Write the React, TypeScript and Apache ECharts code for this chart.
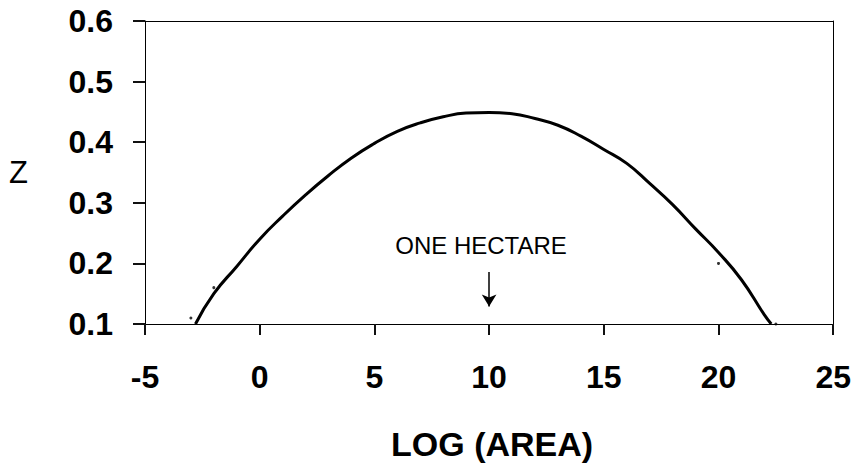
import React, { useEffect, useRef } from "react";
import * as echarts from "echarts";

const curveX = [-2.8, -2, -1, 0, 1, 2, 3, 4, 5, 6, 7, 8, 9, 10, 11, 12, 13, 14, 15, 16, 17, 18, 19, 20, 21, 22, 22.3];
const curveZ = [0.1, 0.15, 0.195, 0.24, 0.278, 0.313, 0.345, 0.374, 0.398, 0.418, 0.432, 0.442, 0.448, 0.449, 0.447, 0.439, 0.428, 0.41, 0.388, 0.365, 0.332, 0.297, 0.257, 0.218, 0.173, 0.115, 0.1];
const dotX = [-3, -2, 20, 22.5];
const dotZ = [0.11, 0.16, 0.2, 0.1];
const hectareX = 10;
const arrowZ = [0.186, 0.129];
const xTicks = { min: -5, max: 25, interval: 5 };
const yTicks = { min: 0.1, max: 0.6, interval: 0.1 };

export default function App() {
  const ref = useRef<HTMLDivElement>(null);
  useEffect(() => {
    if (!ref.current) return;
    const chart = echarts.init(ref.current, undefined, { renderer: "svg" });
    const font = "Arial, 'Liberation Sans', sans-serif";
    chart.setOption({
      animation: false,
      grid: { left: 145, right: 20, top: 21, bottom: 140 },
      xAxis: [
        {
          type: "value",
          min: xTicks.min,
          max: xTicks.max,
          interval: xTicks.interval,
          name: "LOG (AREA)",
          nameLocation: "middle",
          nameGap: 103,
          nameTextStyle: { fontFamily: font, fontWeight: "bold", fontSize: 34, color: "#000", padding: [0, 0, 0, 6] },
          axisLine: { show: true, onZero: false, lineStyle: { color: "#000", width: 1 } },
          axisTick: { show: true, length: 11, lineStyle: { color: "#111", width: 2 } },
          axisLabel: { fontFamily: font, fontWeight: "bold", fontSize: 32, color: "#000", margin: 37 },
          splitLine: { show: false },
        },
        {
          type: "value",
          position: "top",
          min: xTicks.min,
          max: xTicks.max,
          axisLine: { show: true, onZero: false, lineStyle: { color: "#000", width: 1 } },
          axisTick: { show: false },
          axisLabel: { show: false },
          splitLine: { show: false },
        },
      ],
      yAxis: [
        {
          type: "value",
          min: yTicks.min,
          max: yTicks.max,
          interval: yTicks.interval,
          axisLine: { show: true, onZero: false, lineStyle: { color: "#000", width: 1 } },
          axisTick: { show: true, length: 12, lineStyle: { color: "#111", width: 2 } },
          axisLabel: {
            fontFamily: font,
            fontWeight: "bold",
            fontSize: 32,
            color: "#000",
            margin: 32,
            formatter: (v: number) => v.toFixed(1),
          },
          splitLine: { show: false },
        },
        {
          type: "value",
          position: "right",
          min: yTicks.min,
          max: yTicks.max,
          axisLine: { show: true, onZero: false, lineStyle: { color: "#000", width: 1 } },
          axisTick: { show: false },
          axisLabel: { show: false },
          splitLine: { show: false },
        },
      ],
      graphic: [
        {
          type: "text",
          left: 9,
          top: 157,
          style: { text: "Z", fontFamily: font, fontSize: 31, fill: "#000" },
        },
        {
          type: "text",
          x: 481,
          y: 245,
          style: {
            text: "ONE HECTARE",
            fontFamily: font,
            fontSize: 24,
            fill: "#000",
            align: "center",
            verticalAlign: "middle",
          },
        },
      ],
      series: [
        {
          type: "line",
          data: curveX.map((x, i) => [x, curveZ[i]]),
          smooth: true,
          showSymbol: false,
          lineStyle: { color: "#000", width: 3 },
          markLine: {
            silent: true,
            symbol: ["none", "arrow"],
            symbolSize: [11, 12],
            label: { show: false },
            lineStyle: { color: "#000", width: 1.5, type: "solid" },
            data: [
              [
                { coord: [hectareX, arrowZ[0]] },
                { coord: [hectareX, arrowZ[1]] },
              ],
            ],
          },
        },
        {
          type: "scatter",
          data: dotX.map((x, i) => [x, dotZ[i]]),
          symbolSize: 3,
          itemStyle: { color: "#000" },
        },
      ],
    });
    return () => chart.dispose();
  }, []);
  return (
    <div
      ref={ref}
      style={{ position: "fixed", left: 0, top: 0, width: 854, height: 466, background: "#fff" }}
    />
  );
}
